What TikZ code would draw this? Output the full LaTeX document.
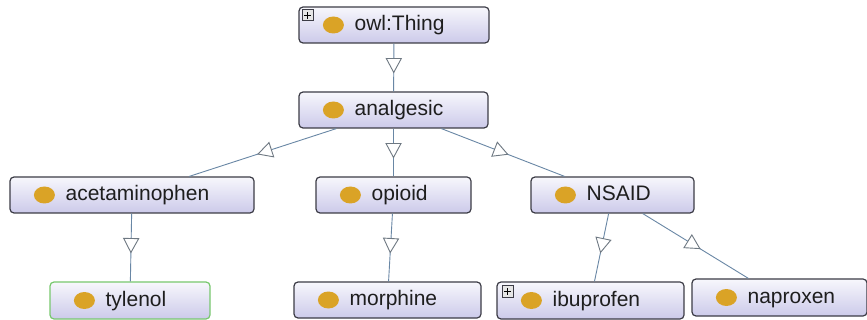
\documentclass[tikz,border=0pt]{standalone}
\usepackage{fontspec}
\setmainfont{Liberation Sans}
\usetikzlibrary{decorations.markings,shapes.geometric}

\definecolor{edgec}{RGB}{105,135,165}
\definecolor{headc}{RGB}{110,120,130}
\definecolor{boxborder}{RGB}{60,60,70}
\definecolor{boxtop}{RGB}{247,247,252}
\definecolor{boxbot}{RGB}{204,202,234}
\definecolor{dotc}{RGB}{218,163,38}
\definecolor{greenb}{RGB}{120,200,110}
\definecolor{txt}{RGB}{30,30,30}
\definecolor{plusfill}{RGB}{230,230,230}

\tikzset{
  clsbox/.style={draw=boxborder, line width=1.2pt, rounded corners=4pt,
    top color=boxtop, bottom color=boxbot, inner sep=0pt},
  clsdot/.style={ellipse, fill=dotc, draw=none, minimum width=21pt, minimum height=17pt, inner sep=0pt},
  clstxt/.style={anchor=base west, inner sep=0pt, font=\fontsize{21}{24}\selectfont, text=txt},
  plusbox/.style={draw=boxborder, fill=plusfill, line width=0.8pt, minimum size=11pt, inner sep=0pt,
    path picture={\draw[line width=1.2pt, black]
      ([xshift=-3.5pt]path picture bounding box.center) -- ([xshift=3.5pt]path picture bounding box.center)
      ([yshift=-3.5pt]path picture bounding box.center) -- ([yshift=3.5pt]path picture bounding box.center);}},
  isa/.style={draw=edgec, line width=0.9pt, postaction={decorate},
    decoration={markings, mark=at position 0.5 with {
      \draw[draw=headc, fill=white, line width=0.9pt, line join=miter]
        (-9pt,-7.5pt) -- (5pt,0pt) -- (-9pt,7.5pt) -- cycle;}}},
}

\newcommand\owlclass[7][]{%
  \node[clsbox, minimum width=#5pt, minimum height=#6pt, #1] (#2) at (#3,#4) {};
  \node[clsdot] (#2-dot) at ([xshift=35pt]#2.west) {};
  \node[clstxt] (#2-txt) at ([xshift=56pt,yshift=-5.5pt]#2.west) {#7};
}

\begin{document}
\begin{tikzpicture}[x=1pt, y=-1pt]
  \useasboundingbox[fill=white] (0,0) rectangle (867,320);

  \owlclass{thing}{394}{25}{190}{36}{owl:Thing}
  \owlclass{analgesic}{393.5}{110}{189}{36}{analgesic}
  \owlclass{acet}{132}{195}{244}{36}{acetaminophen}
  \owlclass{opioid}{393.5}{195}{155}{36}{opioid}
  \owlclass{nsaid}{612.5}{195}{163}{36}{NSAID}
  \owlclass[draw=greenb]{tylenol}{130}{300.5}{160}{37}{tylenol}
  \owlclass{morphine}{387.5}{300}{187}{36}{morphine}
  \owlclass{ibuprofen}{590.5}{300.5}{187}{37}{ibuprofen}
  \owlclass{naproxen}{779.5}{297.5}{175}{37}{naproxen}

  \node[plusbox] (thing-plus) at ([xshift=9pt,yshift=-9pt]thing.north west) {};
  \node[plusbox] (ibuprofen-plus) at ([xshift=11pt,yshift=-10pt]ibuprofen.north west) {};

  \draw[isa] (thing) -- (analgesic);
  \draw[isa] (analgesic) -- (acet);
  \draw[isa] (analgesic) -- (opioid);
  \draw[isa] (analgesic) -- (nsaid);
  \draw[isa] (acet) -- (tylenol);
  \draw[isa] (opioid) -- (morphine);
  \draw[isa] (nsaid) -- (ibuprofen);
  \draw[isa] (nsaid) -- (naproxen);
\end{tikzpicture}
\end{document}
